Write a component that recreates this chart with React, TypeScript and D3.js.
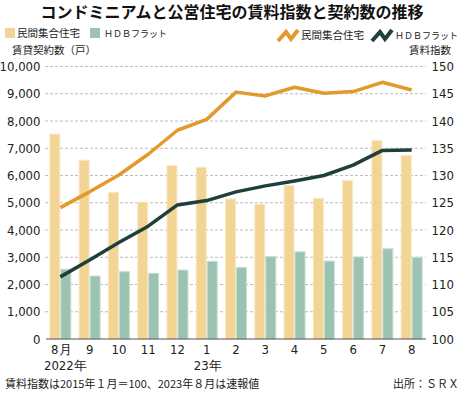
import React from "react";
import * as d3 from "d3";

const months = ["8月", "9", "10", "11", "12", "1", "2", "3", "4", "5", "6", "7", "8"];
const yearLabels = ["2022年", "", "", "", "", "23年", "", "", "", "", "", "", ""];
const condoContracts = [7520, 6560, 5380, 5020, 6360, 6300, 5140, 4940, 5630, 5160, 5810, 7280, 6740];
const hdbContracts = [2560, 2310, 2470, 2410, 2530, 2850, 2630, 3020, 3200, 2860, 3010, 3310, 3000];
const condoIndex = [124.1, 127.0, 130.1, 133.9, 138.3, 140.3, 145.3, 144.6, 146.2, 145.1, 145.4, 147.1, 145.7];
const hdbIndex = [111.4, 114.5, 117.7, 120.7, 124.6, 125.4, 127.0, 128.1, 129.0, 130.0, 131.9, 134.6, 134.7];
const leftTicks = [0, 1000, 2000, 3000, 4000, 5000, 6000, 7000, 8000, 9000, 10000];
const rightTicks = [100, 105, 110, 115, 120, 125, 130, 135, 140, 145, 150];

const W = 465;
const H = 394;
const YELLOW = "#f2d595";
const YELLOW_EDGE = "#f8e7c2";
const GREEN = "#9cc3b1";
const GREEN_EDGE = "#c6ddd2";
const ORANGE = "#e19a2b";
const DARK = "#1f3f3c";
const JP = "'Noto Sans CJK JP', 'Noto Sans', sans-serif";
const NUM = "'Liberation Sans Narrow', 'DejaVu Sans Condensed', 'Roboto Condensed', sans-serif";

export default function App() {
  const x = d3.scaleBand<number>().domain(d3.range(months.length)).range([45.7, 426.3]).paddingInner(0.25).paddingOuter(0.125);
  const sub = d3.scaleBand<number>().domain([0, 1]).range([0, x.bandwidth()]);
  const yL = d3.scaleLinear().domain([0, 10000]).range([339, 66.5]);
  const yR = d3.scaleLinear().domain([100, 150]).range([339, 66.5]);
  const cx = (i: number) => (x(i) as number) + x.bandwidth() / 2;
  const line = d3.line<number>().x((_, i) => cx(i)).y((d) => yR(d));
  const fmt = d3.format(",");

  const icon = (x0: number, y0: number) =>
    `M${x0},${y0 + 11} L${x0 + 8},${y0 + 2} L${x0 + 13},${y0 + 9} L${x0 + 20},${y0}`;

  return (
    <svg width={W} height={H} style={{ position: "absolute", left: 0, top: 0, background: "#fff" }}>
      <text x={232} y={18} textAnchor="middle" fontFamily={JP} fontWeight={700} fontSize={16} fill="#111">
        コンドミニアムと公営住宅の賃料指数と契約数の推移
      </text>
      {/* legends */}
      <rect x={5} y={28} width={10} height={10} fill={YELLOW} />
      <text x={17} y={37} fontFamily={JP} fontSize={10.5} fill="#222">民間集合住宅</text>
      <rect x={90} y={28} width={10} height={10} fill={GREEN} />
      <text x={104} y={37} fontFamily={JP} fontSize={9} fill="#222">ＨＤＢフラット</text>
      <text x={12} y={54} fontFamily={JP} fontSize={10.5} fill="#222">賃貸契約数（戸）</text>

      <path d={icon(278, 30)} fill="none" stroke={ORANGE} strokeWidth={4} />
      <text x={301} y={39} fontFamily={JP} fontSize={10.5} fill="#222">民間集合住宅</text>
      <path d={icon(372, 30)} fill="none" stroke={DARK} strokeWidth={4} />
      <text x={395} y={39} fontFamily={JP} fontSize={9} fill="#222">ＨＤＢフラット</text>
      <text x={451} y={54} textAnchor="end" fontFamily={JP} fontSize={10.5} fill="#222">賃料指数</text>

      {/* grid */}
      {leftTicks.slice(1).map((t) => (
        <line key={t} x1={45} x2={426} y1={yL(t)} y2={yL(t)} stroke="#bdbdbd" strokeWidth={1} strokeDasharray="3,2" />
      ))}
      {/* bars */}
      {months.map((_, i) => (
        <g key={i}>
          <rect x={(x(i) as number) + (sub(0) as number) + 0.5} y={yL(condoContracts[i])} width={sub.bandwidth() - 1} height={yL(0) - yL(condoContracts[i])} fill={YELLOW} stroke={YELLOW_EDGE} strokeWidth={1} />
          <rect x={(x(i) as number) + (sub(1) as number) + 0.5} y={yL(hdbContracts[i])} width={sub.bandwidth() - 1} height={yL(0) - yL(hdbContracts[i])} fill={GREEN} stroke={GREEN_EDGE} strokeWidth={1} />
        </g>
      ))}
      <line x1={46} x2={426} y1={339} y2={339} stroke="#555" strokeWidth={1.2} />
      {/* lines */}
      <path d={line(condoIndex) || ""} fill="none" stroke={ORANGE} strokeWidth={3.5} strokeLinejoin="round" />
      <path d={line(hdbIndex) || ""} fill="none" stroke={DARK} strokeWidth={3.5} strokeLinejoin="round" />
      {/* axes labels */}
      {leftTicks.map((t) => (
        <text key={t} x={40.5} y={yL(t)} dy="0.35em" textAnchor="end" fontFamily={NUM} fontSize={13} fill="#222">
          {fmt(t)}
        </text>
      ))}
      {rightTicks.map((t) => (
        <text key={t} x={431.5} y={yR(t)} dy="0.35em" textAnchor="start" fontFamily={NUM} fontSize={13} fill="#222">
          {t}
        </text>
      ))}
      {months.map((m, i) => (
        <text key={m + i} x={cx(i) + (i === 0 ? 1 : 0)} y={354} textAnchor="middle" fontFamily={NUM} fontSize={13} fill="#222">
          {m}
        </text>
      ))}
      {yearLabels.map((yl, i) =>
        yl ? (
          <text key={"y" + i} x={cx(i) + (i === 0 ? 5 : 1)} y={370} textAnchor="middle" fontFamily={NUM} fontSize={13} fill="#222">
            {yl}
          </text>
        ) : null
      )}
      <text x={5} y={388} fontFamily={JP} fontSize={11} fill="#222">賃料指数は2015年１月＝100、2023年８月は速報値</text>
      <text x={459} y={388} textAnchor="end" fontFamily={JP} fontSize={11} fill="#222">出所：ＳＲＸ</text>
    </svg>
  );
}
